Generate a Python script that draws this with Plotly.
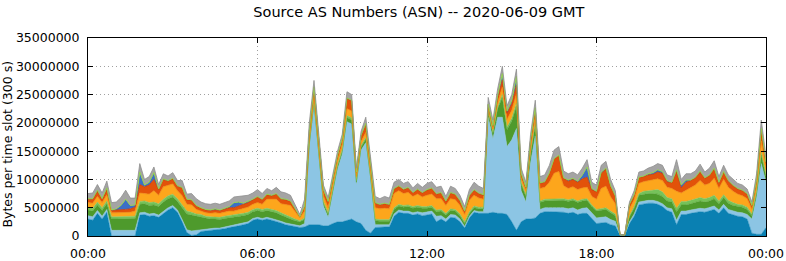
import pandas as pd
import plotly.graph_objects as go

# Values in millions of bytes per 5-min slot, sampled every 10 minutes (00:00 .. 24:00)
times = pd.date_range("2020-06-09 00:00", periods=145, freq="10min")

dark_blue = [
3.0, 2.8, 4.0, 3.0, 4.2, 0.0, 0.0, 0.0, 0.0, 0.0,
0.0, 3.7, 3.8, 3.5, 3.6, 3.3, 4.0, 4.6, 5.0, 4.2,
2.5, 0.6, 0.1, 0.2, 0.8, 0.9, 1.0, 1.1, 1.1, 1.3,
1.5, 1.6, 1.8, 2.0, 2.2, 2.8, 3.0, 2.8, 3.0, 2.8,
2.6, 2.3, 2.0, 1.8, 1.6, 1.5, 1.6, 2.0, 2.0, 2.0,
1.8, 1.8, 2.2, 2.5, 2.5, 2.8, 3.0, 2.5, 2.2, 1.0,
0.5, 1.5, 1.6, 1.6, 1.6, 3.5, 4.2, 4.0, 4.0, 3.7,
3.9, 3.6, 3.7, 3.9, 2.5, 3.0, 2.5, 3.3, 3.2, 2.5,
1.4, 3.2, 4.2, 4.0, 4.0, 4.0, 4.2, 4.0, 4.0, 3.8,
2.5, 1.0, 2.5, 3.0, 3.0, 3.2, 4.0, 4.3, 4.3, 4.3,
4.3, 4.2, 4.0, 4.2, 3.8, 4.0, 4.0, 3.0, 2.2, 2.3,
2.4, 2.0, 1.8, 0.1, 0.1, 2.2, 3.5, 5.5, 5.7, 5.8,
5.8, 5.6, 5.2, 4.5, 4.2, 2.0, 3.8, 3.8, 4.0, 4.2,
4.3, 4.2, 4.4, 4.7, 4.0, 5.0, 4.0, 3.7, 3.5, 3.4,
3.0, 0.5, 0.3, 0.3, 1.5]

light_blue = [
0.6, 0.6, 0.5, 0.5, 0.5, 1.0, 1.0, 1.0, 1.0, 1.0,
1.0, 0.4, 0.4, 0.4, 0.4, 0.4, 0.4, 0.4, 0.4, 0.4,
0.4, 0.5, 0.8, 0.8, 0.4, 0.3, 0.3, 0.3, 0.3, 0.3,
0.3, 0.3, 0.3, 0.3, 0.3, 0.3, 0.3, 0.3, 0.3, 0.3,
0.3, 0.3, 0.3, 0.3, 0.3, 0.3, 0.6, 13.6, 21.0, 12.0,
3.5, 1.5, 5.5, 9.3, 12.0, 17.4, 16.8, 6.5, 13.0, 15.5,
9.5, 0.5, 0.4, 0.4, 0.4, 0.4, 0.4, 0.4, 0.4, 0.4,
0.4, 0.5, 0.5, 0.5, 1.0, 0.6, 0.5, 0.5, 0.5, 0.5,
0.3, 0.3, 0.3, 0.3, 0.3, 17.0, 13.0, 17.0, 17.0, 12.0,
14.5, 18.0, 5.5, 3.0, 10.0, 14.5, 0.7, 0.7, 0.7, 0.7,
0.7, 0.8, 0.8, 0.8, 0.8, 0.9, 1.0, 1.0, 1.0, 1.0,
1.0, 0.9, 0.8, 0.1, 0.05, 0.3, 0.4, 0.5, 0.5, 0.5,
0.5, 0.5, 0.5, 0.5, 0.6, 0.8, 0.6, 0.6, 0.6, 0.6,
0.6, 0.6, 0.6, 0.6, 0.6, 0.6, 0.7, 0.7, 0.7, 0.7,
0.8, 2.5, 6.5, 12.5, 8.0]

green = [
1.0, 1.0, 1.0, 1.0, 1.0, 2.0, 2.0, 2.0, 2.0, 2.0,
2.1, 1.5, 1.5, 1.5, 1.5, 1.5, 1.6, 1.6, 1.5, 1.5,
2.0, 2.8, 2.8, 2.5, 2.2, 1.9, 1.7, 1.6, 1.5, 1.5,
1.4, 1.4, 1.4, 1.3, 1.3, 1.2, 1.2, 1.2, 1.2, 1.2,
1.2, 1.1, 1.0, 0.9, 0.8, 0.7, 0.7, 0.6, 0.6, 0.6,
0.5, 0.5, 0.5, 0.5, 0.5, 0.7, 0.7, 0.5, 0.5, 0.6,
0.5, 0.7, 0.6, 0.6, 0.6, 0.8, 0.7, 0.7, 0.8, 0.8,
0.8, 0.8, 0.7, 0.7, 0.8, 0.8, 0.7, 0.7, 0.7, 0.6,
0.5, 0.5, 0.5, 0.5, 0.5, 0.8, 0.9, 1.5, 3.5, 3.0,
3.3, 4.0, 1.2, 1.0, 1.5, 2.0, 1.2, 1.2, 1.2, 1.3,
1.3, 1.3, 1.3, 1.3, 1.3, 1.3, 1.3, 1.2, 1.2, 1.3,
1.3, 1.2, 1.0, 0.05, 0.05, 0.9, 1.0, 1.2, 1.2, 1.2,
1.2, 1.3, 1.3, 1.2, 1.2, 1.5, 1.1, 1.1, 1.1, 1.2,
1.3, 1.2, 1.2, 1.3, 1.1, 1.2, 1.1, 1.0, 1.0, 1.0,
0.9, 0.6, 0.8, 1.5, 1.0]

light_green = [
0.5, 0.5, 0.5, 0.5, 0.5, 0.4, 0.4, 0.4, 0.4, 0.4,
0.4, 0.5, 0.5, 0.5, 0.5, 0.5, 0.5, 0.5, 0.5, 0.5,
0.5, 0.5, 0.5, 0.4, 0.4, 0.4, 0.4, 0.4, 0.4, 0.4,
0.4, 0.4, 0.4, 0.4, 0.4, 0.4, 0.4, 0.4, 0.4, 0.4,
0.4, 0.4, 0.4, 0.4, 0.3, 0.2, 0.3, 0.3, 0.3, 0.3,
0.3, 0.3, 0.3, 0.3, 0.3, 0.4, 0.4, 0.3, 0.3, 0.3,
0.3, 0.3, 0.3, 0.3, 0.3, 0.3, 0.3, 0.3, 0.3, 0.3,
0.3, 0.3, 0.3, 0.3, 0.3, 0.3, 0.3, 0.3, 0.3, 0.3,
0.3, 0.3, 0.3, 0.3, 0.3, 0.3, 0.3, 0.3, 0.5, 0.5,
0.5, 0.5, 0.3, 0.3, 0.3, 0.4, 0.3, 0.3, 0.3, 0.3,
0.3, 0.3, 0.3, 0.3, 0.3, 0.3, 0.3, 0.3, 0.3, 0.3,
0.3, 0.3, 0.3, 0.0, 0.0, 0.2, 0.3, 0.3, 0.5, 0.5,
0.6, 0.8, 0.8, 0.6, 0.6, 0.6, 0.6, 0.6, 0.6, 0.6,
0.6, 0.6, 0.6, 0.6, 0.5, 0.5, 0.5, 0.5, 0.4, 0.4,
0.4, 0.3, 0.3, 0.5, 0.4]

orange = [
0.8, 0.9, 1.0, 0.9, 1.1, 0.7, 0.7, 0.7, 0.8, 0.8,
0.9, 1.5, 1.3, 1.5, 2.0, 1.5, 2.2, 1.8, 1.8, 1.4,
1.7, 1.2, 1.3, 0.8, 0.6, 0.6, 0.6, 0.7, 0.7, 0.7,
0.8, 0.7, 0.7, 0.8, 0.9, 0.9, 1.0, 0.9, 1.6, 1.8,
2.0, 1.6, 1.9, 2.0, 1.3, 0.5, 1.2, 0.8, 0.9, 0.9,
1.0, 0.9, 0.8, 0.8, 0.9, 1.2, 1.2, 0.7, 0.7, 0.9,
0.9, 2.0, 1.9, 2.0, 1.9, 2.5, 2.4, 2.1, 2.2, 1.8,
2.0, 1.7, 2.0, 2.0, 2.0, 1.9, 1.4, 1.8, 1.7, 1.5,
1.3, 2.0, 1.9, 1.6, 1.4, 0.5, 0.5, 0.8, 1.3, 1.3,
1.4, 1.6, 0.7, 0.7, 0.8, 1.0, 2.2, 2.1, 3.0, 4.5,
4.8, 2.3, 2.0, 2.1, 2.0, 2.0, 2.0, 1.5, 1.8, 3.5,
3.8, 2.5, 1.8, 0.0, 0.0, 1.2, 1.2, 1.8, 1.7, 1.8,
1.8, 1.9, 2.0, 1.8, 1.8, 3.0, 1.5, 2.0, 2.2, 2.4,
3.0, 2.4, 2.5, 3.0, 2.2, 2.7, 2.3, 2.0, 1.8, 1.6,
1.5, 0.8, 1.0, 2.0, 1.0]

red = [
0.6, 0.7, 0.9, 0.6, 0.9, 0.4, 0.5, 0.5, 0.5, 0.6,
0.7, 1.5, 1.2, 1.6, 2.0, 1.0, 1.3, 0.8, 0.9, 0.8,
1.4, 0.8, 0.8, 0.6, 0.5, 0.5, 0.5, 0.5, 0.5, 0.6,
0.6, 0.6, 0.7, 0.8, 0.8, 0.8, 1.0, 0.8, 0.8, 0.6,
0.9, 0.8, 0.8, 0.7, 0.4, 0.2, 0.8, 1.2, 1.5, 1.2,
1.0, 1.0, 0.9, 0.8, 0.9, 1.8, 1.8, 0.8, 1.0, 1.5,
1.2, 0.8, 0.7, 0.8, 0.7, 0.8, 0.8, 0.7, 0.8, 0.6,
0.8, 0.7, 0.9, 1.0, 0.8, 1.0, 0.7, 1.0, 0.9, 0.8,
0.5, 0.8, 0.9, 0.8, 0.7, 0.6, 0.5, 0.8, 1.3, 1.1,
1.2, 1.6, 0.7, 0.5, 1.3, 1.5, 0.9, 0.9, 1.6, 2.5,
2.8, 1.3, 1.3, 1.3, 1.3, 1.6, 1.8, 1.2, 1.3, 2.7,
3.0, 1.9, 1.3, 0.0, 0.0, 0.8, 0.8, 1.0, 0.9, 1.0,
1.0, 1.2, 1.3, 1.0, 1.0, 3.5, 0.9, 1.4, 1.3, 1.3,
1.5, 1.2, 1.4, 1.7, 1.0, 1.3, 1.1, 1.0, 0.9, 0.9,
0.8, 0.6, 1.0, 2.0, 1.0]

blue = [
0.1, 0.1, 0.2, 0.1, 0.3, 0.1, 0.2, 0.8, 1.8, 0.6,
0.4, 2.2, 0.3, 0.5, 1.2, 0.1, 0.1, 0.1, 0.1, 0.1,
0.1, 0.1, 0.1, 0.1, 0.1, 0.1, 0.1, 0.2, 0.1, 0.1,
0.2, 0.9, 0.7, 0.2, 0.2, 0.1, 0.1, 0.1, 0.1, 0.1,
0.1, 0.1, 0.1, 0.1, 0.1, 0.0, 0.1, 0.1, 0.1, 0.1,
0.1, 0.1, 0.1, 0.1, 0.1, 0.1, 0.1, 0.0, 0.1, 0.1,
0.1, 0.1, 0.1, 0.1, 0.1, 0.1, 0.1, 0.1, 0.1, 0.1,
0.1, 0.1, 0.1, 0.1, 0.1, 0.1, 0.1, 0.1, 0.1, 0.1,
0.1, 0.1, 0.1, 0.1, 0.1, 0.1, 0.1, 0.4, 1.1, 0.4,
0.5, 1.5, 0.2, 0.1, 0.1, 0.1, 0.1, 0.1, 0.1, 0.1,
0.1, 0.1, 0.2, 0.2, 0.2, 0.7, 1.8, 0.2, 0.1, 0.2,
0.2, 0.1, 0.1, 0.0, 0.0, 0.0, 0.1, 0.1, 0.1, 0.2,
0.3, 0.4, 0.3, 0.2, 0.1, 0.3, 0.5, 0.4, 0.1, 0.1,
0.2, 0.1, 0.1, 0.1, 0.1, 0.1, 0.1, 0.1, 0.1, 0.1,
0.1, 0.1, 0.1, 0.2, 0.1]

gray = [
0.9, 1.0, 1.0, 1.0, 1.2, 1.3, 1.2, 1.4, 1.6, 1.3,
1.2, 1.5, 1.0, 1.0, 1.0, 0.8, 0.9, 0.8, 1.0, 0.9,
1.2, 0.9, 1.1, 1.2, 1.0, 1.0, 1.0, 1.0, 1.0, 1.0,
1.0, 1.0, 1.0, 1.2, 1.1, 1.1, 1.2, 1.0, 1.0, 0.8,
1.1, 1.2, 1.1, 1.0, 0.7, 0.4, 1.2, 1.4, 1.1, 0.9,
0.8, 0.7, 0.7, 0.7, 0.8, 1.1, 1.0, 0.7, 0.7, 1.1,
1.0, 1.1, 1.0, 1.2, 1.1, 1.1, 1.1, 1.0, 1.0, 0.8,
1.0, 0.9, 1.1, 1.1, 1.1, 1.1, 0.8, 1.1, 1.0, 0.9,
0.8, 1.0, 1.3, 1.2, 1.1, 1.2, 1.0, 1.2, 1.3, 0.9,
1.1, 1.3, 0.9, 0.9, 1.0, 1.3, 1.1, 1.2, 1.3, 1.5,
1.5, 1.2, 1.1, 1.1, 1.1, 1.2, 1.3, 1.1, 1.1, 1.2,
1.2, 1.1, 0.9, 0.05, 0.0, 0.4, 0.7, 0.9, 0.9, 1.0,
1.1, 1.1, 1.1, 1.0, 1.0, 1.8, 1.0, 1.1, 1.1, 1.1,
1.2, 1.0, 1.2, 1.3, 1.0, 1.1, 1.0, 1.0, 0.9, 0.9,
0.8, 0.6, 1.0, 1.5, 1.0]

# (name, values, fill colour, edge colour, edge width)
series = [
    ("dark blue", dark_blue, "#0a80b2", "#0a80b2", 0.5),
    ("light blue", light_blue, "#8cc5e4", "#8cc5e4", 0.5),
    ("green", green, "#4e9a2c", "#4e9a2c", 0.5),
    ("light green", light_green, "#76c25a", "#76c25a", 0.5),
    ("orange", orange, "#fda61c", "#f08c10", 0.8),
    ("red", red, "#e2520a", "#c83a06", 0.8),
    ("blue", blue, "#3b6fc6", "#94d24a", 1.0),
    ("gray", gray, "#a4a4a4", "#8e8e8e", 0.8),
]

FONT = "DejaVu Sans"
fig = go.Figure()
for name, vals, col, edge, w in series:
    fig.add_trace(go.Scatter(
        x=times, y=[v * 1e6 for v in vals], name=name, mode="lines",
        stackgroup="one", line=dict(width=w, color=edge), fillcolor=col,
        hoverinfo="skip"))

fig.update_layout(
    width=786, height=261,
    margin=dict(l=88, r=20, t=38, b=25, autoexpand=False),
    paper_bgcolor="white", plot_bgcolor="white",
    showlegend=False,
    font=dict(family=FONT, size=12, color="black"),
    title=dict(text="Source AS Numbers (ASN) -- 2020-06-09 GMT",
               x=0.488, xref="paper", xanchor="center",
               y=0.955, yref="container", yanchor="middle",
               font=dict(family=FONT, size=14.5)),
    annotations=[dict(
        text="Bytes per time slot (300 s)", textangle=-90,
        xref="paper", yref="paper", x=-0.1185, y=0.465,
        xanchor="center", yanchor="middle", showarrow=False,
        font=dict(family=FONT, size=12.5, color="black"))],
)
fig.update_xaxes(
    type="date", range=["2020-06-09 00:00", "2020-06-10 00:00"],
    tickvals=pd.date_range("2020-06-09 00:00", periods=5, freq="6h"),
    ticktext=["00:00", "06:00", "12:00", "18:00", "00:00"],
    showgrid=True, gridcolor="#a0a0a0", griddash="1px,3px", gridwidth=1,
    showline=True, linecolor="black", linewidth=1, mirror="ticks",
    ticks="inside", ticklen=5, tickcolor="black", automargin=False,
    ticklabelstandoff=6,
    tickfont=dict(size=12.5), zeroline=False)
fig.update_yaxes(
    range=[0, 35e6], dtick=5e6, tick0=0, tickformat="d",
    showgrid=True, gridcolor="#a0a0a0", griddash="1px,3px", gridwidth=1,
    showline=True, linecolor="black", linewidth=1, mirror="ticks",
    ticks="inside", ticklen=5, tickcolor="black", automargin=False,
    ticklabelstandoff=5,
    tickfont=dict(size=12.5), zeroline=False)

fig.write_html("out.html")
